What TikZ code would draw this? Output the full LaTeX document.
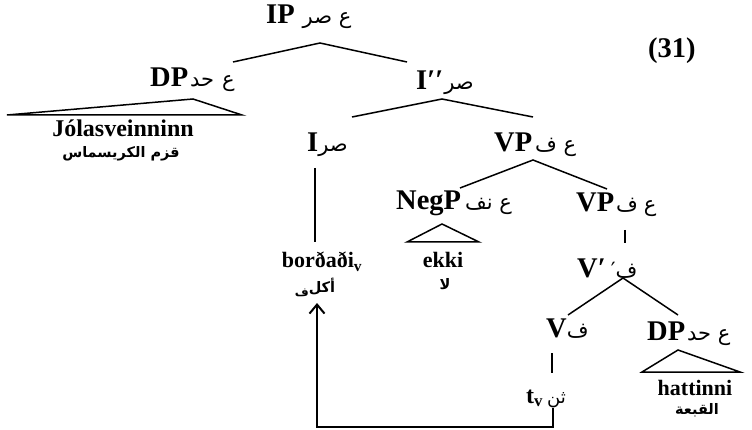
\documentclass[tikz,border=0pt]{standalone}
\usepackage{fontspec}
\setmainfont{Liberation Serif}
\newfontfamily\arabicfont[Script=Arabic]{DejaVu Sans}
\TeXXeTstate=1
\usetikzlibrary{arrows.meta}
\newcommand{\arlab}[1]{{\arabicfont\mdseries\fontsize{21}{24}\selectfont\beginR #1\endR}}
\newcommand{\argl}[1]{{\arabicfont\bfseries\fontsize{14.5}{17}\selectfont\beginR #1\endR}}
\tikzset{
  lab/.style={anchor=base west, inner sep=0pt, font=\bfseries\fontsize{28.5}{30}\selectfont},
  leaf/.style={anchor=base, inner sep=0pt, font=\bfseries\fontsize{22}{24}\selectfont},
  gloss/.style={anchor=base, inner sep=0pt},
  edge/.style={line width=1.5pt},
  tri/.style={line width=1.5pt, line join=miter},
  thickedge/.style={line width=2.5pt},
  move/.style={line width=2.5pt, line join=miter, -{Straight Barb[length=9pt,width=15pt,line width=2pt]}}
}
\begin{document}
\begin{tikzpicture}[x=1pt,y=-1pt]
\useasboundingbox (0,0) rectangle (752,430);
% labels
\node[lab] (ip) at (266,24) {IP\hspace{8pt}\arlab{ع صر}};
\node[lab] (num) at (648,58) {(31)};
\node[lab] (dp1) at (150,87) {DP\hspace{2pt}\arlab{ع\hspace{8pt}حد}};
\node[lab] (ibar) at (416,90) {I′′\hspace{1pt}\arlab{صر}};
\node[lab] (i) at (307,152) {I\arlab{صر}};
\node[lab] (vp1) at (494,152) {VP\hspace{3pt}\arlab{ع ف}};
\node[lab] (negp) at (396,210) {NegP\hspace{4pt}\arlab{ع نف}};
\node[lab] (vp2) at (576,212) {VP\hspace{2pt}\arlab{ع\hspace{6pt}ف}};
\node[lab] (vbar) at (577,277) {V′\hspace{5pt}\arlab{ف′}};
\node[lab] (v) at (546,337) {V\arlab{ف}};
\node[lab] (dp2) at (647,340) {DP\hspace{2pt}\arlab{ع حد}};
\node[lab, font=\bfseries\fontsize{24}{26}\selectfont] (tv) at (526,403) {t\textsubscript{v}\hspace{4pt}{\arabicfont\mdseries\fontsize{18}{20}\selectfont\beginR ثن\endR}};
% leaves
\node[leaf, font=\bfseries\fontsize{24}{26}\selectfont] (jol) at (123,137) {Jólasveinninn};
\node[gloss] (jolg) at (121,158) {\argl{قزم الكريسماس}};
\node[leaf] (bor) at (322,268) {borðaði\textsubscript{v}};
\node[gloss] (borg) at (315,293) {\argl{أكل\raisebox{-4pt}{\fontsize{12}{14}\selectfont ف}}};
\node[leaf] (ekki) at (443,268) {ekki};
\node[gloss] (ekkig) at (445,290) {\argl{لا}};
\node[leaf] (hat) at (695,395) {hattinni};
\node[gloss] (hatg) at (697,414) {\argl{القبعة}};
% branch points
\coordinate (ipB) at (320,43);
\coordinate (dp1T) at (233,62);
\coordinate (ibarT) at (407,62);
\coordinate (ibarB) at (442,99);
\coordinate (iT) at (352,117);
\coordinate (vp1T) at (533,117);
\coordinate (iB) at (315,168);
\coordinate (borT) at (315,242);
\coordinate (vp1B) at (533,160);
\coordinate (negT) at (460,188);
\coordinate (vp2T) at (607,189);
\coordinate (vp2B) at (625,230);
\coordinate (vbarT) at (625,243);
\coordinate (vbarB) at (623,278);
\coordinate (vT) at (568,315);
\coordinate (dp2T) at (678,315);
\coordinate (vB) at (552,353);
\coordinate (tvT) at (552,373);
\coordinate (tvB) at (553,408);
\coordinate (corner1) at (553,427);
\coordinate (corner2) at (317,427);
\coordinate (borB) at (317,303);
% edges
\draw[edge] (dp1T) -- (ipB) -- (ibarT);
\draw[edge] (iT) -- (ibarB) -- (vp1T);
\draw[edge] (iB) -- (borT);
\draw[edge] (negT) -- (vp1B) -- (vp2T);
\draw[edge] (vp2B) -- (vbarT);
\draw[edge] (vT) -- (vbarB) -- (dp2T);
\draw[thickedge] (vB) -- (tvT);
% triangles
\draw[tri] (7,115) -- (193,99) -- (242,115) -- cycle;
\draw[tri] (407,242) -- (442,224) -- (479,242) -- cycle;
\draw[tri] (642,372) -- (678,350) -- (740,372) -- cycle;
% movement
\draw[move] (tvB) -- (corner1) -- (corner2) -- (borB);
\end{tikzpicture}
\end{document}
